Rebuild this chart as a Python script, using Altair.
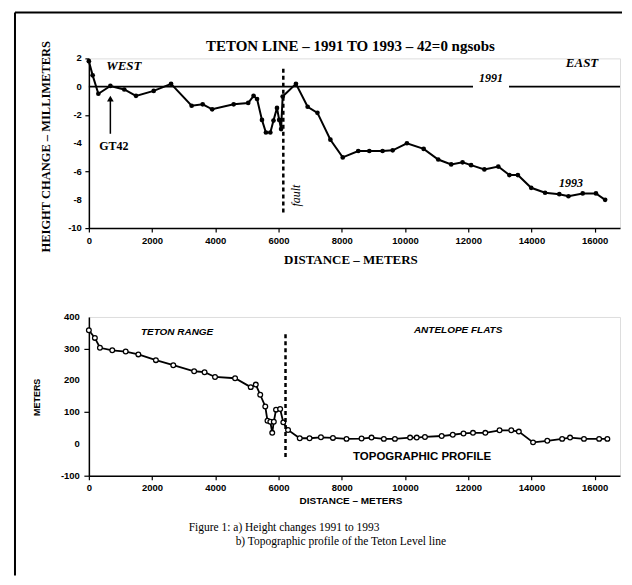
import altair as alt
import pandas as pd

# ---- (a) height change 1991 -> 1993 along the Teton line ----
dist_93 = [0, 120, 300, 680, 1120, 1490, 2050, 2600, 3250, 3600,
           3900, 4580, 5040, 5210, 5320, 5475, 5600, 5740, 5840, 5950,
           6020, 6080, 6130, 6550, 6920, 7230, 7640, 8030, 8520, 8870,
           9290, 9610, 10060, 10590, 11050, 11460, 11820, 12090, 12510, 12950,
           13300, 13570, 13990, 14430, 14880, 15170, 15620, 16040, 16330]
dh_93 = [1.8, 0.8, -0.5, 0.05, -0.2, -0.65, -0.3, 0.2, -1.35, -1.25,
         -1.6, -1.25, -1.15, -0.65, -0.87, -2.35, -3.24, -3.24, -2.4, -1.5,
         -2.35, -3.0, -0.7, 0.2, -1.42, -1.85, -3.75, -5.0, -4.55, -4.55,
         -4.55, -4.5, -4.0, -4.4, -5.15, -5.5, -5.35, -5.55, -5.85, -5.65,
         -6.25, -6.25, -7.15, -7.5, -7.6, -7.75, -7.55, -7.55, -8.0]

# 1991 reference line (broken for its label)
ref_start = [0, 13290]
ref_end = [12150, 16800]

fault_a = 6150
fault_a_range = [-8.9, 1.35]
gt42_x = 680
gt42_range = [-3.33, -0.95]

# ---- (b) topographic profile ----
dist_topo = [0, 190, 350, 740, 1165, 1565, 2120, 2670, 3330, 3660,
             3990, 4625, 5120, 5280, 5420, 5580, 5650, 5740, 5800, 5850,
             5920, 6050, 6150, 6300, 6670, 6980, 7340, 7720, 8150, 8625,
             8940, 9330, 9680, 10160, 10370, 10630, 11160, 11510, 11850, 12150,
             12540, 12990, 13360, 13600, 14050, 14500, 14970, 15220, 15660, 16140,
             16400]
elev = [358, 334, 303, 295, 291, 282, 264, 248, 229, 226,
        211, 207, 179, 187, 155, 118, 73, 70, 35, 70,
        108, 110, 68, 44, 18, 18, 21, 19, 16, 17,
        20, 16, 16, 20, 20, 22, 25, 29, 33, 35,
        35, 43, 43, 39, 5, 10, 16, 20, 16, 16,
        16]
fault_b = 6220
fault_b_range = [-41, 351]

x_ticks = list(range(0, 17000, 1000))
ya_ticks = list(range(-10, 3, 1))
ya_labels = list(range(-10, 3, 2))
yb_ticks = list(range(-100, 401, 50))
yb_labels = list(range(-100, 401, 100))

SERIF = "Liberation Serif"
SANS = "Liberation Sans"

W, HA, HB = 532, 170, 159
xscale = alt.Scale(domain=[0, 16800], nice=False)

one = pd.DataFrame({"k": [0]})


def x_axis(title, font, size, ty):
    return alt.Axis(values=x_ticks, labelExpr="datum.value % 2000 === 0 ? '' + datum.value : ''",
                    labelFont=SANS, labelFontWeight="bold", labelFontSize=9.5, labelPadding=3,
                    labelFlush=False, tickSize=4, tickColor="black",
                    tickWidth=1.2, domainColor="black", domainWidth=1.5, grid=False,
                    labelColor="black",
                    title=title, titleFont=font, titleFontSize=size,
                    titleFontWeight="bold", titleX=262, titleY=ty, titleAlign="center",
                    titleBaseline="middle", titleColor="black")


def y_axis(values, title, font, size, tx, ty, tick):
    return alt.Axis(values=values, labels=False, tickSize=tick, tickColor="black",
                    tickWidth=1.2, domainColor="black", domainWidth=1.5, grid=False,
                    title=title, titleFont=font, titleFontSize=size,
                    titleFontWeight="bold", titleX=tx, titleY=ty, titleAngle=-90,
                    titleAlign="center", titleBaseline="middle", titleColor="black")


def txt(text, x, y, font=SERIF, size=12, weight="bold", style="normal", angle=0, align="center", pixel=True):
    m = alt.Chart(one).mark_text(text=text, font=font, fontSize=size, fontWeight=weight,
                                 fontStyle=style, angle=angle, align=align, baseline="middle",
                                 color="black")
    if pixel:
        return m.encode(x=alt.value(x), y=alt.value(y))
    return m.encode(x=alt.datum(x), y=alt.datum(y))


def y_labels(vals, xpx):
    d = pd.DataFrame({"v": vals, "lab": [str(v) for v in vals]})
    return alt.Chart(d).mark_text(font=SANS, fontSize=9.5, fontWeight="bold", align="right",
                                  baseline="middle", color="black").encode(
        y="v:Q", x=alt.value(xpx), text="lab:N")

# ================= panel (a) =================
dfa = pd.DataFrame({"d": dist_93, "h": dh_93})

line_a = alt.Chart(dfa).mark_line(color="black", strokeWidth=2).encode(
    x=alt.X("d:Q", scale=xscale, axis=x_axis("DISTANCE – METERS", SERIF, 13, 31)),
    y=alt.Y("h:Q", scale=alt.Scale(domain=[-10, 2], nice=False),
            axis=y_axis(ya_ticks, "HEIGHT CHANGE – MILLIMETERS", SERIF, 12.5, -43, 88, 4)),
)
pts_a = alt.Chart(dfa).mark_point(filled=True, color="black", size=22, opacity=1).encode(
    x="d:Q", y="h:Q")
labs_a = y_labels(ya_labels, -7)

dref = pd.DataFrame({"s": ref_start, "e": ref_end})
ref_a = alt.Chart(dref).mark_rule(color="black", strokeWidth=1.6).encode(
    x="s:Q", x2="e:Q", y=alt.datum(0))

fault_line_a = alt.Chart(one).mark_rule(color="black", strokeWidth=2.5, strokeDash=[4, 3]).encode(
    x=alt.datum(fault_a), y=alt.datum(fault_a_range[0]), y2=alt.datum(fault_a_range[1]))

arrow_a = alt.Chart(one).mark_rule(color="black", strokeWidth=1.5).encode(
    x=alt.datum(gt42_x), y=alt.datum(gt42_range[0]), y2=alt.datum(gt42_range[1]))
arrow_head = alt.Chart(one).mark_point(shape="triangle-up", filled=True, color="black",
                                       size=45, opacity=1).encode(
    x=alt.datum(gt42_x), y=alt.datum(-0.85))

title_a = txt("TETON LINE – 1991 TO 1993 – 42=0 ngsobs", 262, -12, size=15)
west = txt("WEST", 35, 8, size=13, style="italic")
east = txt("EAST", 494, 5, size=13, style="italic")
gt42 = txt("GT42", 790, -4.2, size=12, pixel=False)
l1991 = txt("1991", 12720, 0.62, size=12, style="italic", pixel=False)
l1993 = txt("1993", 15250, -6.8, size=12, style="italic", pixel=False)
fault_t = txt("fault", 6550, -7.7, size=12, weight="normal", style="italic", angle=270, pixel=False)

frame_left = alt.Chart(one).mark_rule(color="black", strokeWidth=2).encode(
    x=alt.value(-74), y=alt.value(-46), y2=alt.value(518))
frame_top = alt.Chart(one).mark_rule(color="black", strokeWidth=2).encode(
    x=alt.value(-74), x2=alt.value(534), y=alt.value(-46))

top = alt.layer(line_a, pts_a, labs_a, ref_a, fault_line_a, arrow_a, arrow_head,
                title_a, west, east, gt42, l1991, l1993, fault_t,
                frame_left, frame_top).properties(width=W, height=HA)

# ================= panel (b) =================
dfb = pd.DataFrame({"d": dist_topo, "e": elev})

line_b = alt.Chart(dfb).mark_line(color="black", strokeWidth=1.8).encode(
    x=alt.X("d:Q", scale=xscale, axis=x_axis("DISTANCE –   METERS", SANS, 10, 25)),
    y=alt.Y("e:Q", scale=alt.Scale(domain=[-100, 400], nice=False),
            axis=y_axis(yb_ticks, "METERS", SANS, 9, -52, 80, 5)),
)
pts_b = alt.Chart(dfb).mark_point(filled=True, fill="white", stroke="black", strokeWidth=1.3,
                                  size=22, opacity=1).encode(x="d:Q", y="e:Q")
labs_b = y_labels(yb_labels, -9)

fault_line_b = alt.Chart(one).mark_rule(color="black", strokeWidth=2.5, strokeDash=[4, 3]).encode(
    x=alt.datum(fault_b), y=alt.datum(fault_b_range[0]), y2=alt.datum(fault_b_range[1]))

teton = txt("TETON RANGE", 2790, 354, font=SANS, size=10, style="italic", pixel=False)
antelope = txt("ANTELOPE FLATS", 11680, 360, font=SANS, size=10, style="italic", pixel=False)
topo = txt("TOPOGRAPHIC PROFILE", 10540, -41, font=SANS, size=11.5, pixel=False)
cap1 = txt("Figure 1:  a) Height changes 1991 to 1993", 100, 211, size=11.5,
           weight="normal", align="left")
cap2 = txt("b) Topographic profile of the Teton Level line", 147, 225, size=11.5,
           weight="normal", align="left")

bottom = alt.layer(line_b, pts_b, labs_b, fault_line_b, teton, antelope, topo, cap1, cap2).properties(
    width=W, height=HB)

chart = alt.vconcat(top, bottom, spacing=89, bounds="flush").properties(
    padding={"left": 5, "top": 2, "right": 0, "bottom": 0}
).configure_view(stroke="black", strokeWidth=1.5).configure(background="white")

chart.save("out.html", embed_options={"renderer": "svg", "actions": False})
